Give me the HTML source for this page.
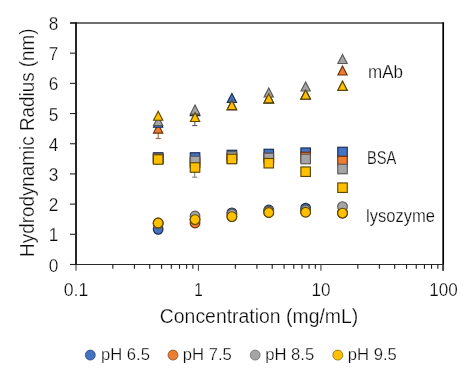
<!DOCTYPE html><html><head><meta charset="utf-8"><style>html,body{margin:0;padding:0;background:#fff;overflow:hidden}svg{display:block}text{font-family:"Liberation Sans",sans-serif;fill:#0a0a0a;stroke:#fff;stroke-width:0.25px}svg{will-change:transform}</style></head><body>
<svg width="473" height="377" viewBox="0 0 473 377">
<rect width="473" height="377" fill="#fff"/>
<line x1="70" y1="23" x2="443.5" y2="23" stroke="#404040" stroke-width="1.3"/>
<line x1="443.2" y1="22.3" x2="443.2" y2="270.7" stroke="#000" stroke-width="1.7"/>
<line x1="70" y1="264.5" x2="443.5" y2="264.5" stroke="#2a2a2a" stroke-width="1.05"/>
<line x1="76" y1="22.3" x2="76" y2="265" stroke="#000" stroke-width="1.7"/>
<line x1="70" y1="264.50" x2="76" y2="264.50" stroke="#222" stroke-width="1.1"/>
<line x1="70" y1="234.31" x2="76" y2="234.31" stroke="#222" stroke-width="1.1"/>
<line x1="70" y1="204.12" x2="76" y2="204.12" stroke="#222" stroke-width="1.1"/>
<line x1="70" y1="173.93" x2="76" y2="173.93" stroke="#222" stroke-width="1.1"/>
<line x1="70" y1="143.74" x2="76" y2="143.74" stroke="#222" stroke-width="1.1"/>
<line x1="70" y1="113.55" x2="76" y2="113.55" stroke="#222" stroke-width="1.1"/>
<line x1="70" y1="83.36" x2="76" y2="83.36" stroke="#222" stroke-width="1.1"/>
<line x1="70" y1="53.17" x2="76" y2="53.17" stroke="#222" stroke-width="1.1"/>
<line x1="70" y1="22.98" x2="76" y2="22.98" stroke="#222" stroke-width="1.1"/>
<line x1="76.00" y1="264.5" x2="76.00" y2="270.7" stroke="#444" stroke-width="1.1"/>
<line x1="112.87" y1="264.5" x2="112.87" y2="268.8" stroke="#1a1a1a" stroke-width="1.1"/>
<line x1="134.43" y1="264.5" x2="134.43" y2="268.8" stroke="#1a1a1a" stroke-width="1.1"/>
<line x1="149.73" y1="264.5" x2="149.73" y2="268.8" stroke="#1a1a1a" stroke-width="1.1"/>
<line x1="161.60" y1="264.5" x2="161.60" y2="268.8" stroke="#1a1a1a" stroke-width="1.1"/>
<line x1="171.30" y1="264.5" x2="171.30" y2="268.8" stroke="#1a1a1a" stroke-width="1.1"/>
<line x1="179.50" y1="264.5" x2="179.50" y2="268.8" stroke="#1a1a1a" stroke-width="1.1"/>
<line x1="186.60" y1="264.5" x2="186.60" y2="268.8" stroke="#1a1a1a" stroke-width="1.1"/>
<line x1="192.87" y1="264.5" x2="192.87" y2="268.8" stroke="#1a1a1a" stroke-width="1.1"/>
<line x1="198.47" y1="264.5" x2="198.47" y2="270.7" stroke="#444" stroke-width="1.1"/>
<line x1="235.34" y1="264.5" x2="235.34" y2="268.8" stroke="#1a1a1a" stroke-width="1.1"/>
<line x1="256.90" y1="264.5" x2="256.90" y2="268.8" stroke="#1a1a1a" stroke-width="1.1"/>
<line x1="272.20" y1="264.5" x2="272.20" y2="268.8" stroke="#1a1a1a" stroke-width="1.1"/>
<line x1="284.07" y1="264.5" x2="284.07" y2="268.8" stroke="#1a1a1a" stroke-width="1.1"/>
<line x1="293.77" y1="264.5" x2="293.77" y2="268.8" stroke="#1a1a1a" stroke-width="1.1"/>
<line x1="301.97" y1="264.5" x2="301.97" y2="268.8" stroke="#1a1a1a" stroke-width="1.1"/>
<line x1="309.07" y1="264.5" x2="309.07" y2="268.8" stroke="#1a1a1a" stroke-width="1.1"/>
<line x1="315.34" y1="264.5" x2="315.34" y2="268.8" stroke="#1a1a1a" stroke-width="1.1"/>
<line x1="320.94" y1="264.5" x2="320.94" y2="270.7" stroke="#444" stroke-width="1.1"/>
<line x1="357.81" y1="264.5" x2="357.81" y2="268.8" stroke="#1a1a1a" stroke-width="1.1"/>
<line x1="379.37" y1="264.5" x2="379.37" y2="268.8" stroke="#1a1a1a" stroke-width="1.1"/>
<line x1="394.67" y1="264.5" x2="394.67" y2="268.8" stroke="#1a1a1a" stroke-width="1.1"/>
<line x1="406.54" y1="264.5" x2="406.54" y2="268.8" stroke="#1a1a1a" stroke-width="1.1"/>
<line x1="416.24" y1="264.5" x2="416.24" y2="268.8" stroke="#1a1a1a" stroke-width="1.1"/>
<line x1="424.44" y1="264.5" x2="424.44" y2="268.8" stroke="#1a1a1a" stroke-width="1.1"/>
<line x1="431.54" y1="264.5" x2="431.54" y2="268.8" stroke="#1a1a1a" stroke-width="1.1"/>
<line x1="437.81" y1="264.5" x2="437.81" y2="268.8" stroke="#1a1a1a" stroke-width="1.1"/>
<line x1="443.41" y1="264.5" x2="443.41" y2="270.7" stroke="#444" stroke-width="1.1"/>
<text x="53.6" y="271.50" font-size="18.6" text-anchor="middle" textLength="9.6" lengthAdjust="spacingAndGlyphs">0</text>
<text x="53.6" y="241.31" font-size="18.6" text-anchor="middle" textLength="9.6" lengthAdjust="spacingAndGlyphs">1</text>
<text x="53.6" y="211.12" font-size="18.6" text-anchor="middle" textLength="9.6" lengthAdjust="spacingAndGlyphs">2</text>
<text x="53.6" y="180.93" font-size="18.6" text-anchor="middle" textLength="9.6" lengthAdjust="spacingAndGlyphs">3</text>
<text x="53.6" y="150.74" font-size="18.6" text-anchor="middle" textLength="9.6" lengthAdjust="spacingAndGlyphs">4</text>
<text x="53.6" y="120.55" font-size="18.6" text-anchor="middle" textLength="9.6" lengthAdjust="spacingAndGlyphs">5</text>
<text x="53.6" y="90.36" font-size="18.6" text-anchor="middle" textLength="9.6" lengthAdjust="spacingAndGlyphs">6</text>
<text x="53.6" y="60.17" font-size="18.6" text-anchor="middle" textLength="9.6" lengthAdjust="spacingAndGlyphs">7</text>
<text x="53.6" y="29.98" font-size="18.6" text-anchor="middle" textLength="9.6" lengthAdjust="spacingAndGlyphs">8</text>
<text x="76.00" y="295.6" font-size="18.4" text-anchor="middle" textLength="24.5" lengthAdjust="spacingAndGlyphs">0.1</text>
<text x="198.47" y="295.6" font-size="18.4" text-anchor="middle" textLength="8.5" lengthAdjust="spacingAndGlyphs">1</text>
<text x="320.94" y="295.6" font-size="18.4" text-anchor="middle" textLength="19" lengthAdjust="spacingAndGlyphs">10</text>
<text x="443.41" y="295.6" font-size="18.4" text-anchor="middle" textLength="28.5" lengthAdjust="spacingAndGlyphs">100</text>
<text x="159.8" y="323" font-size="19.5" textLength="198.5" lengthAdjust="spacingAndGlyphs">Concentration (mg/mL)</text>
<text transform="translate(33.8,256.9) rotate(-90)" x="0" y="0" font-size="19.6" textLength="228.5" lengthAdjust="spacingAndGlyphs">Hydrodynamic Radius (nm)</text>
<text x="368" y="78" font-size="18" textLength="35" lengthAdjust="spacingAndGlyphs">mAb</text>
<text x="367" y="164" font-size="17.5" textLength="29.3" lengthAdjust="spacingAndGlyphs">BSA</text>
<text x="366" y="221.8" font-size="18" textLength="68.9" lengthAdjust="spacingAndGlyphs">lysozyme</text>
<line x1="158.2" y1="125" x2="158.2" y2="138.5" stroke="#9c6a44" stroke-width="1.1"/><line x1="155.6" y1="138.5" x2="160.79999999999998" y2="138.5" stroke="#9c6a44" stroke-width="1.1"/>
<line x1="194.8" y1="117" x2="194.8" y2="125.6" stroke="#5a5a5a" stroke-width="1.1"/><line x1="192.20000000000002" y1="125.6" x2="197.4" y2="125.6" stroke="#5a5a5a" stroke-width="1.1"/>
<line x1="194.7" y1="167" x2="194.7" y2="177.2" stroke="#858585" stroke-width="1.1"/><line x1="192.1" y1="177.2" x2="197.29999999999998" y2="177.2" stroke="#858585" stroke-width="1.1"/>
<polygon points="158.17,124.10 162.82,133.10 153.52,133.10" fill="#ED7D31" stroke="#6A300A" stroke-width="1.15"/>
<polygon points="195.04,106.70 199.69,115.70 190.39,115.70" fill="#ED7D31" stroke="#6A300A" stroke-width="1.15"/>
<polygon points="231.90,100.60 236.55,109.60 227.25,109.60" fill="#ED7D31" stroke="#6A300A" stroke-width="1.15"/>
<polygon points="268.77,93.80 273.42,102.80 264.12,102.80" fill="#ED7D31" stroke="#6A300A" stroke-width="1.15"/>
<polygon points="305.64,90.00 310.29,99.00 300.99,99.00" fill="#ED7D31" stroke="#6A300A" stroke-width="1.15"/>
<polygon points="342.51,66.00 347.16,75.00 337.86,75.00" fill="#ED7D31" stroke="#6A300A" stroke-width="1.15"/>
<polygon points="158.17,118.20 162.82,127.20 153.52,127.20" fill="#4472C4" stroke="#1A2C50" stroke-width="1.15"/>
<polygon points="195.04,106.50 199.69,115.50 190.39,115.50" fill="#4472C4" stroke="#1A2C50" stroke-width="1.15"/>
<polygon points="231.90,93.50 236.55,102.50 227.25,102.50" fill="#4472C4" stroke="#1A2C50" stroke-width="1.15"/>
<polygon points="268.77,93.80 273.42,102.80 264.12,102.80" fill="#4472C4" stroke="#1A2C50" stroke-width="1.15"/>
<polygon points="305.64,90.00 310.29,99.00 300.99,99.00" fill="#4472C4" stroke="#1A2C50" stroke-width="1.15"/>
<polygon points="342.51,81.30 347.16,90.30 337.86,90.30" fill="#4472C4" stroke="#1A2C50" stroke-width="1.15"/>
<polygon points="158.17,116.50 162.82,125.50 153.52,125.50" fill="#A5A5A5" stroke="#585858" stroke-width="1.15"/>
<polygon points="195.04,105.10 199.69,114.10 190.39,114.10" fill="#A5A5A5" stroke="#585858" stroke-width="1.15"/>
<polygon points="231.90,100.60 236.55,109.60 227.25,109.60" fill="#A5A5A5" stroke="#585858" stroke-width="1.15"/>
<polygon points="268.77,88.00 273.42,97.00 264.12,97.00" fill="#A5A5A5" stroke="#585858" stroke-width="1.15"/>
<polygon points="305.64,82.00 310.29,91.00 300.99,91.00" fill="#A5A5A5" stroke="#585858" stroke-width="1.15"/>
<polygon points="342.51,54.50 347.16,63.50 337.86,63.50" fill="#A5A5A5" stroke="#585858" stroke-width="1.15"/>
<polygon points="158.17,111.20 162.82,120.20 153.52,120.20" fill="#FFC000" stroke="#5E4800" stroke-width="1.15"/>
<polygon points="195.04,112.50 199.69,121.50 190.39,121.50" fill="#FFC000" stroke="#5E4800" stroke-width="1.15"/>
<polygon points="231.90,100.60 236.55,109.60 227.25,109.60" fill="#FFC000" stroke="#5E4800" stroke-width="1.15"/>
<polygon points="268.77,93.80 273.42,102.80 264.12,102.80" fill="#FFC000" stroke="#5E4800" stroke-width="1.15"/>
<polygon points="305.64,90.00 310.29,99.00 300.99,99.00" fill="#FFC000" stroke="#5E4800" stroke-width="1.15"/>
<polygon points="342.51,81.30 347.16,90.30 337.86,90.30" fill="#FFC000" stroke="#5E4800" stroke-width="1.15"/>
<rect x="153.42" y="152.75" width="9.5" height="9.5" fill="#4472C4" stroke="#1A2C50" stroke-width="1.15"/>
<rect x="190.29" y="152.75" width="9.5" height="9.5" fill="#4472C4" stroke="#1A2C50" stroke-width="1.15"/>
<rect x="227.15" y="150.25" width="9.5" height="9.5" fill="#4472C4" stroke="#1A2C50" stroke-width="1.15"/>
<rect x="264.02" y="149.25" width="9.5" height="9.5" fill="#4472C4" stroke="#1A2C50" stroke-width="1.15"/>
<rect x="300.89" y="147.95" width="9.5" height="9.5" fill="#4472C4" stroke="#1A2C50" stroke-width="1.15"/>
<rect x="337.76" y="147.25" width="9.5" height="9.5" fill="#4472C4" stroke="#1A2C50" stroke-width="1.15"/>
<rect x="153.42" y="153.75" width="9.5" height="9.5" fill="#ED7D31" stroke="#6A300A" stroke-width="1.15"/>
<rect x="190.29" y="158.25" width="9.5" height="9.5" fill="#ED7D31" stroke="#6A300A" stroke-width="1.15"/>
<rect x="227.15" y="153.75" width="9.5" height="9.5" fill="#ED7D31" stroke="#6A300A" stroke-width="1.15"/>
<rect x="264.02" y="153.25" width="9.5" height="9.5" fill="#ED7D31" stroke="#6A300A" stroke-width="1.15"/>
<rect x="300.89" y="152.25" width="9.5" height="9.5" fill="#ED7D31" stroke="#6A300A" stroke-width="1.15"/>
<rect x="337.76" y="156.25" width="9.5" height="9.5" fill="#ED7D31" stroke="#6A300A" stroke-width="1.15"/>
<rect x="153.42" y="153.75" width="9.5" height="9.5" fill="#A5A5A5" stroke="#585858" stroke-width="1.15"/>
<rect x="190.29" y="156.25" width="9.5" height="9.5" fill="#A5A5A5" stroke="#585858" stroke-width="1.15"/>
<rect x="227.15" y="151.75" width="9.5" height="9.5" fill="#A5A5A5" stroke="#585858" stroke-width="1.15"/>
<rect x="264.02" y="153.25" width="9.5" height="9.5" fill="#A5A5A5" stroke="#585858" stroke-width="1.15"/>
<rect x="300.89" y="154.25" width="9.5" height="9.5" fill="#A5A5A5" stroke="#585858" stroke-width="1.15"/>
<rect x="337.76" y="164.25" width="9.5" height="9.5" fill="#A5A5A5" stroke="#585858" stroke-width="1.15"/>
<rect x="153.42" y="154.75" width="9.5" height="9.5" fill="#FFC000" stroke="#5E4800" stroke-width="1.15"/>
<rect x="190.29" y="162.75" width="9.5" height="9.5" fill="#FFC000" stroke="#5E4800" stroke-width="1.15"/>
<rect x="227.15" y="154.25" width="9.5" height="9.5" fill="#FFC000" stroke="#5E4800" stroke-width="1.15"/>
<rect x="264.02" y="158.45" width="9.5" height="9.5" fill="#FFC000" stroke="#5E4800" stroke-width="1.15"/>
<rect x="300.89" y="166.95" width="9.5" height="9.5" fill="#FFC000" stroke="#5E4800" stroke-width="1.15"/>
<rect x="337.76" y="182.95" width="9.5" height="9.5" fill="#FFC000" stroke="#5E4800" stroke-width="1.15"/>
<circle cx="158.17" cy="229.30" r="4.85" fill="#4472C4" stroke="#1A2C50" stroke-width="1.15"/>
<circle cx="195.04" cy="219.60" r="4.85" fill="#4472C4" stroke="#1A2C50" stroke-width="1.15"/>
<circle cx="231.90" cy="212.80" r="4.85" fill="#4472C4" stroke="#1A2C50" stroke-width="1.15"/>
<circle cx="268.77" cy="210.00" r="4.85" fill="#4472C4" stroke="#1A2C50" stroke-width="1.15"/>
<circle cx="305.64" cy="208.20" r="4.85" fill="#4472C4" stroke="#1A2C50" stroke-width="1.15"/>
<circle cx="342.51" cy="212.80" r="4.85" fill="#4472C4" stroke="#1A2C50" stroke-width="1.15"/>
<circle cx="158.17" cy="223.00" r="4.85" fill="#ED7D31" stroke="#6A300A" stroke-width="1.15"/>
<circle cx="195.04" cy="223.00" r="4.85" fill="#ED7D31" stroke="#6A300A" stroke-width="1.15"/>
<circle cx="231.90" cy="216.50" r="4.85" fill="#ED7D31" stroke="#6A300A" stroke-width="1.15"/>
<circle cx="268.77" cy="212.50" r="4.85" fill="#ED7D31" stroke="#6A300A" stroke-width="1.15"/>
<circle cx="305.64" cy="212.00" r="4.85" fill="#ED7D31" stroke="#6A300A" stroke-width="1.15"/>
<circle cx="342.51" cy="213.00" r="4.85" fill="#ED7D31" stroke="#6A300A" stroke-width="1.15"/>
<circle cx="158.17" cy="224.00" r="4.85" fill="#A5A5A5" stroke="#585858" stroke-width="1.15"/>
<circle cx="195.04" cy="216.00" r="4.85" fill="#A5A5A5" stroke="#585858" stroke-width="1.15"/>
<circle cx="231.90" cy="214.00" r="4.85" fill="#A5A5A5" stroke="#585858" stroke-width="1.15"/>
<circle cx="268.77" cy="211.00" r="4.85" fill="#A5A5A5" stroke="#585858" stroke-width="1.15"/>
<circle cx="305.64" cy="210.00" r="4.85" fill="#A5A5A5" stroke="#585858" stroke-width="1.15"/>
<circle cx="342.51" cy="206.60" r="4.85" fill="#A5A5A5" stroke="#585858" stroke-width="1.15"/>
<circle cx="158.17" cy="223.00" r="4.85" fill="#FFC000" stroke="#5E4800" stroke-width="1.15"/>
<circle cx="195.04" cy="219.60" r="4.85" fill="#FFC000" stroke="#5E4800" stroke-width="1.15"/>
<circle cx="231.90" cy="216.60" r="4.85" fill="#FFC000" stroke="#5E4800" stroke-width="1.15"/>
<circle cx="268.77" cy="212.50" r="4.85" fill="#FFC000" stroke="#5E4800" stroke-width="1.15"/>
<circle cx="305.64" cy="212.20" r="4.85" fill="#FFC000" stroke="#5E4800" stroke-width="1.15"/>
<circle cx="342.51" cy="213.10" r="4.85" fill="#FFC000" stroke="#5E4800" stroke-width="1.15"/>
<circle cx="90.3" cy="355.1" r="5" fill="#4472C4" stroke="#1A2C50" stroke-width="0.6"/>
<text x="100.9" y="360.2" font-size="15.8" textLength="49" lengthAdjust="spacingAndGlyphs">pH 6.5</text>
<circle cx="173" cy="355.1" r="5" fill="#ED7D31" stroke="#6A300A" stroke-width="0.6"/>
<text x="182.8" y="360.2" font-size="15.8" textLength="49" lengthAdjust="spacingAndGlyphs">pH 7.5</text>
<circle cx="255.2" cy="355.1" r="5" fill="#A5A5A5" stroke="#585858" stroke-width="0.6"/>
<text x="265.2" y="360.2" font-size="15.8" textLength="49" lengthAdjust="spacingAndGlyphs">pH 8.5</text>
<circle cx="337.8" cy="355.1" r="5" fill="#FFC000" stroke="#5E4800" stroke-width="0.6"/>
<text x="347.8" y="360.2" font-size="15.8" textLength="49" lengthAdjust="spacingAndGlyphs">pH 9.5</text>
</svg></body></html>
